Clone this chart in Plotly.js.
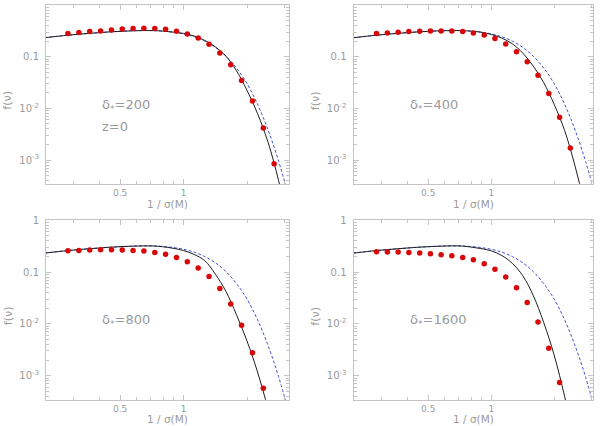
<!DOCTYPE html>
<html>
<head>
<meta charset="utf-8">
<script src="https://cdn.plot.ly/plotly-3.0.1.min.js"></script>
<style>html,body{margin:0;padding:0;background:#fff;}#chart{width:600px;height:426px;}</style>
</head>
<body>
<div id="chart"></div>
<script>
// ---- data ----
// positions of the measured points, 1/sigma(M)
const binX = [0.283, 0.319, 0.359, 0.404, 0.455, 0.512, 0.576, 0.648, 0.730, 0.821,
              0.925, 1.041, 1.172, 1.319, 1.484, 1.671, 1.881, 2.118, 2.384, 2.683];
// measured f(nu) for each overdensity
const pts200  = [0.280, 0.293, 0.307, 0.315, 0.330, 0.345, 0.351, 0.356, 0.351, 0.340,
                 0.311, 0.275, 0.229, 0.173, 0.118, 0.0699, 0.0344, 0.01387, 0.00416, 0.00085];
const pts400  = [0.280, 0.288, 0.297, 0.307, 0.311, 0.315, 0.315, 0.315, 0.307, 0.288,
                 0.263, 0.224, 0.176, 0.125, 0.0796, 0.0436, 0.0194, 0.00672, 0.00171];
const pts800  = [0.258, 0.262, 0.266, 0.270, 0.270, 0.266, 0.262, 0.254, 0.240, 0.220,
                 0.192, 0.159, 0.120, 0.0818, 0.0482, 0.0242, 0.00941, 0.00277, 0.000574];
const pts1600 = [0.247, 0.243, 0.243, 0.239, 0.233, 0.226, 0.216, 0.207, 0.192, 0.173,
                 0.145, 0.113, 0.0807, 0.0497, 0.0259, 0.01087, 0.0034, 0.000736];
// curve sample positions
const curveX = [0.219, 0.282, 0.355, 0.447, 0.562, 0.708, 0.794, 0.891, 1.0, 1.122,
                1.259, 1.413, 1.585, 1.778, 1.995, 2.239, 2.512, 2.818, 3.162];
// blue dashed reference curve (same in every panel)
const refCurve = [0.2323, 0.2600, 0.2818, 0.3020, 0.3162, 0.3199, 0.3126, 0.2985, 0.2754, 0.2427,
                  0.1995, 0.1514, 0.1023, 0.0603, 0.0302, 0.0120, 0.0038, 0.00095, 0.000178];
// black solid fits
const fit200  = [0.2323, 0.2600, 0.2818, 0.3020, 0.3162, 0.3199, 0.3126, 0.2985, 0.2818, 0.2512,
                 0.2065, 0.1549, 0.1023, 0.0537, 0.0224, 0.00794, 0.00219, 0.000398, 0.00005];
const fit400  = [0.2323, 0.2600, 0.2818, 0.3020, 0.3162, 0.3199, 0.3126, 0.2985, 0.2692, 0.2291,
                 0.1778, 0.1175, 0.0661, 0.0316, 0.0120, 0.00372, 0.000759, 0.000112];
const fit800  = [0.2323, 0.2600, 0.2818, 0.3020, 0.3162, 0.3199, 0.3090, 0.2884, 0.2600, 0.2188,
                 0.1660, 0.0912, 0.0427, 0.01514, 0.00468, 0.001175, 0.000224, 0.0000316];
const fit1600 = [0.2323, 0.2600, 0.2818, 0.3020, 0.3162, 0.3199, 0.3055, 0.2851, 0.2570, 0.2089,
                 0.1479, 0.0851, 0.0355, 0.01072, 0.00251, 0.000398, 0.00005];
const panelLabels = ['δ<sub>*</sub>=200', 'δ<sub>*</sub>=400', 'δ<sub>*</sub>=800', 'δ<sub>*</sub>=1600'];
const xTickVals = [0.5, 1];
const xTickText = ['0.5', '1'];
const xMinor = [0.3, 0.4, 0.6, 0.7, 0.8, 0.9, 2, 3];
const yTickVals = [1, 0.1, 0.01, 0.001];
const yTickText = ['1', '0.1', '10<sup>-2</sup>', '10<sup>-3</sup>'];
const yMinor = [0.0004,0.0005,0.0006,0.0007,0.0008,0.0009,
                0.002,0.003,0.004,0.005,0.006,0.007,0.008,0.009,
                0.02,0.03,0.04,0.05,0.06,0.07,0.08,0.09,
                0.2,0.3,0.4,0.5,0.6,0.7,0.8,0.9];

// ---- drawing ----
const FRAME = '#c4c4c4', TXT = '#9a9a9a';
const FONT = 'DejaVu Sans, sans-serif';
const W = 600, H = 426;
const px = v => v / W, py = v => 1 - v / H;

const panels = [
  {pts: pts200,  fit: fit200,  xd: [46, 289],      yd: [5, 184.3],   xr: [-0.652, 0.499], ty: 204},
  {pts: pts400,  fit: fit400,  xd: [353.5, 593.3], yd: [5, 184.3],   xr: [-0.658, 0.487], ty: 204},
  {pts: pts800,  fit: fit800,  xd: [46, 289],      yd: [220.3, 400], xr: [-0.652, 0.499], ty: 419},
  {pts: pts1600, fit: fit1600, xd: [353.5, 593.3], yd: [220.3, 400], xr: [-0.658, 0.487], ty: 419}
];

const data = [];
const layout = {
  width: W, height: H,
  margin: {l: 0, r: 0, t: 0, b: 0},
  paper_bgcolor: '#fff', plot_bgcolor: '#fff',
  showlegend: false,
  font: {family: FONT, color: TXT, size: 10},
  annotations: []
};

panels.forEach((p, i) => {
  const n = i === 0 ? '' : String(i + 1);
  const xa = 'x' + n, ya = 'y' + n;
  layout['xaxis' + n] = {
    type: 'log', range: p.xr, domain: [px(p.xd[0]), px(p.xd[1])], anchor: ya,
    showline: true, linecolor: FRAME, linewidth: 1, mirror: 'ticks',
    ticks: 'inside', ticklen: 5, tickcolor: FRAME, tickwidth: 1,
    tickmode: 'array', tickvals: xTickVals, ticktext: xTickText,
    tickfont: {family: FONT, size: 9, color: TXT},
    ticklabelstandoff: 0,
    minor: {tickmode: 'array', tickvals: xMinor, ticks: 'inside', ticklen: 3, tickcolor: FRAME, showgrid: false},
    showgrid: false, zeroline: false, fixedrange: true
  };
  layout['yaxis' + n] = {
    type: 'log', range: [-3.47, 0], domain: [py(p.yd[1]), py(p.yd[0])], anchor: xa,
    showline: true, linecolor: FRAME, linewidth: 1, mirror: 'ticks',
    ticks: 'inside', ticklen: 5, tickcolor: FRAME, tickwidth: 1,
    tickmode: 'array', tickvals: yTickVals, ticktext: yTickText,
    tickfont: {family: FONT, size: 10, color: TXT},
    ticklabelstandoff: 4,
    minor: {tickmode: 'array', tickvals: yMinor, ticks: 'inside', ticklen: 3, tickcolor: FRAME, showgrid: false},
    showgrid: false, zeroline: false, fixedrange: true
  };
  data.push({
    x: curveX.slice(0, refCurve.length), y: refCurve, xaxis: xa, yaxis: ya,
    mode: 'lines', line: {color: '#4152d4', width: 1, dash: '3px,2px', shape: 'spline', smoothing: 1},
    hoverinfo: 'skip'
  });
  data.push({
    x: curveX.slice(0, p.fit.length), y: p.fit, xaxis: xa, yaxis: ya,
    mode: 'lines', line: {color: '#1e1e1e', width: 1, shape: 'spline', smoothing: 1},
    hoverinfo: 'skip'
  });
  data.push({
    x: binX.slice(0, p.pts.length), y: p.pts, xaxis: xa, yaxis: ya,
    mode: 'markers', marker: {color: '#d80808', size: 5.5, line: {width: 0}},
    cliponaxis: false
  });
  const cx = (p.xd[0] + p.xd[1]) / 2, cy = (p.yd[0] + p.yd[1]) / 2;
  layout.annotations.push({
    xref: 'paper', yref: 'paper', x: px(cx), y: py(p.ty),
    text: '1 / σ(M)', showarrow: false, xanchor: 'center', yanchor: 'middle',
    font: {family: FONT, size: 10.5, color: TXT}
  });
  layout.annotations.push({
    xref: 'paper', yref: 'paper', x: px(p.xd[0] - 38), y: py(cy + 6),
    text: 'f(ν)', showarrow: false, textangle: -90, xanchor: 'center', yanchor: 'middle',
    font: {family: FONT, size: 11, color: TXT}
  });
  layout.annotations.push({
    xref: 'paper', yref: 'paper', x: px(p.xd[0] + 54), y: py(p.yd[0] + 100),
    text: panelLabels[i], showarrow: false, xanchor: 'left', yanchor: 'middle',
    font: {family: FONT, size: 13, color: TXT}
  });
});
layout.annotations.push({
  xref: 'paper', yref: 'paper', x: px(100), y: py(127),
  text: 'z=0', showarrow: false, xanchor: 'left', yanchor: 'middle',
  font: {family: FONT, size: 13, color: TXT}
});

Plotly.newPlot('chart', data, layout, {staticPlot: true, displayModeBar: false});
</script>
</body>
</html>
